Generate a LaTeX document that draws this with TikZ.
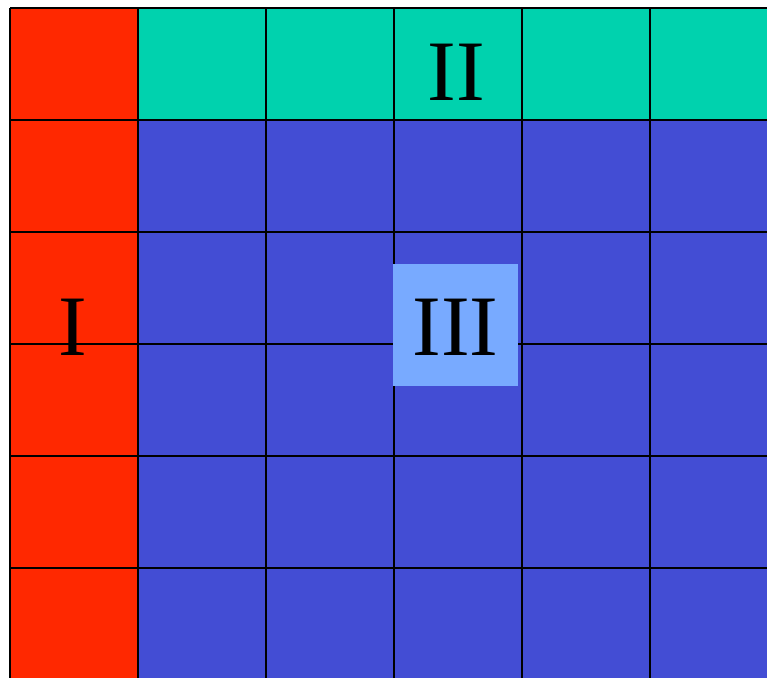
\documentclass[tikz,border=0pt]{standalone}
\usepackage{fontspec}
\setmainfont{Liberation Serif}
\definecolor{sideRed}{RGB}{255,40,0}
\definecolor{topGreen}{RGB}{0,210,174}
\definecolor{bodyBlue}{RGB}{67,77,212}
\definecolor{boxBlue}{RGB}{120,170,255}

\begin{document}
\begin{tikzpicture}[
  x=0.01cm,
  y=-0.01cm,
  grid line/.style={draw=black,line width=0.45pt},
  region label/.style={inner sep=0pt,font=\fontsize{24.5}{28}\selectfont},
]
\useasboundingbox (0,0) rectangle (767,678);
% background regions
\fill[white] (0,0) rectangle (767,678);
\fill[sideRed] (10,8) rectangle (138,678);
\fill[topGreen] (138,8) rectangle (767,120);
\fill[bodyBlue] (138,120) rectangle (767,678);
% grid
\foreach \x in {10,138,266,394,522,650}
  \draw[grid line] (\x,8) -- (\x,678);
\foreach \y in {8,120,232,344,456,568}
  \draw[grid line] (10,\y) -- (767,\y);
% highlighted block
\node[fill=boxBlue,minimum width=1.25cm,minimum height=1.22cm,inner sep=0pt] (box3) at (455.5,325) {};
% labels
\node[region label] (lab1) at (73,327.5) {I};
\node[region label] (lab2) at (456,72) {II};
\node[region label] (lab3) at (455.5,327.5) {III};
\end{tikzpicture}
\end{document}
